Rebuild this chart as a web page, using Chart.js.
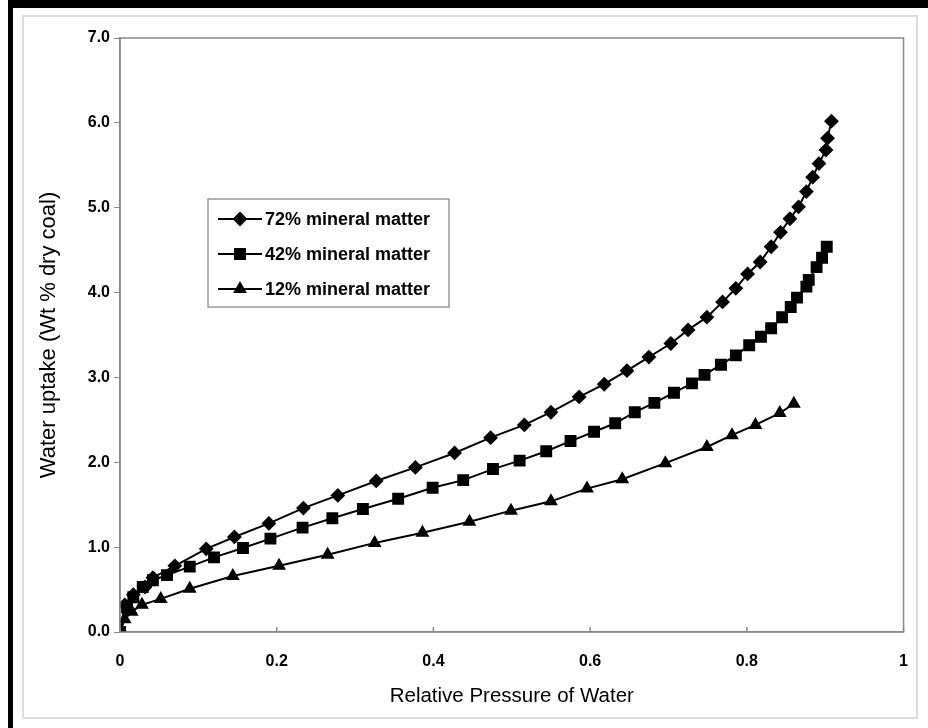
<!DOCTYPE html>
<html>
<head>
<meta charset="utf-8">
<script src="https://cdn.jsdelivr.net/npm/chart.js@4/dist/chart.umd.min.js"></script>
<style>
  html, body { margin: 0; padding: 0; background: #fff; }
  #wrap { position: relative; width: 928px; height: 728px; overflow: hidden; }
  .bar { position: absolute; background: #000; }
  #frame { position: absolute; left: 22px; top: 15px; width: 892px; height: 700px; border: 2px solid #dcdcdc; }
  canvas { position: absolute; left: 0; top: 0; }
</style>
</head>
<body>
<div id="wrap">
  <div class="bar" style="left:8px;top:0;width:920px;height:8px"></div>
  <div class="bar" style="left:8px;top:0;width:5px;height:728px"></div>
  <div id="frame"></div>
  <canvas id="isotherm" width="928" height="728"></canvas>
</div>
<script>
// series
var seriesNames = ["72% mineral matter", "42% mineral matter", "12% mineral matter"];

var pressure72 = [0, 0.006, 0.017, 0.032, 0.042, 0.070, 0.110, 0.146, 0.190, 0.234, 0.278, 0.327, 0.377, 0.427, 0.473, 0.516, 0.550, 0.586, 0.618, 0.647, 0.675, 0.703, 0.725, 0.749, 0.769, 0.786, 0.801, 0.817, 0.831, 0.843, 0.855, 0.866, 0.876, 0.884, 0.892, 0.901, 0.903, 0.908];
var uptake72   = [0, 0.32, 0.44, 0.53, 0.64, 0.78, 0.98, 1.12, 1.28, 1.46, 1.61, 1.78, 1.94, 2.11, 2.29, 2.44, 2.59, 2.77, 2.92, 3.08, 3.24, 3.40, 3.56, 3.71, 3.89, 4.05, 4.22, 4.36, 4.54, 4.71, 4.87, 5.01, 5.19, 5.36, 5.52, 5.68, 5.82, 6.02];

var pressure42 = [0, 0.009, 0.017, 0.029, 0.042, 0.060, 0.089, 0.120, 0.157, 0.192, 0.233, 0.271, 0.310, 0.355, 0.399, 0.438, 0.476, 0.510, 0.544, 0.575, 0.605, 0.632, 0.657, 0.682, 0.707, 0.730, 0.746, 0.767, 0.786, 0.803, 0.818, 0.831, 0.845, 0.856, 0.864, 0.876, 0.879, 0.889, 0.896, 0.902];
var uptake42   = [0, 0.29, 0.41, 0.53, 0.61, 0.67, 0.77, 0.88, 0.99, 1.10, 1.23, 1.34, 1.45, 1.57, 1.70, 1.79, 1.92, 2.02, 2.13, 2.25, 2.36, 2.46, 2.59, 2.70, 2.82, 2.93, 3.03, 3.15, 3.26, 3.38, 3.48, 3.58, 3.71, 3.83, 3.94, 4.07, 4.15, 4.30, 4.41, 4.54];

var pressure12 = [0, 0.006, 0.015, 0.028, 0.052, 0.089, 0.144, 0.203, 0.265, 0.325, 0.386, 0.446, 0.499, 0.550, 0.596, 0.641, 0.696, 0.749, 0.781, 0.811, 0.842, 0.860];
var uptake12   = [0, 0.15, 0.24, 0.32, 0.39, 0.51, 0.66, 0.78, 0.91, 1.05, 1.17, 1.30, 1.43, 1.54, 1.69, 1.80, 1.99, 2.18, 2.32, 2.44, 2.58, 2.69];

var xTicks = [0, 0.2, 0.4, 0.6, 0.8, 1];

function pairs(xs, ys) {
    return xs.map(function (x, i) { return {x: x, y: ys[i]}; });
}

function makeSet(label, xs, ys, shape, r) {
    return {
        label: label,
        data: pairs(xs, ys),
        borderColor: '#000',
        backgroundColor: '#000',
        borderWidth: 2,
        pointStyle: shape,
        pointRadius: r,
        pointHoverRadius: r,
        tension: 0
    };
}

var tickFont = {family: "'Liberation Sans Narrow', 'Liberation Sans', Arial", size: 16, weight: 'bold'};

// box legend inside the plot + closing frame of the plot area
var boxLegend = {
    id: 'boxLegend',
    afterDraw: function (chart) {
        var ctx = chart.ctx, a = chart.chartArea;
        ctx.save();
        ctx.strokeStyle = '#8a8a8a';
        ctx.lineWidth = 1.5;
        ctx.strokeRect(a.left, a.top, a.right - a.left, a.bottom - a.top);
        // inward ticks on x axis
        var xs = chart.scales.x;
        xTicks.forEach(function (t) {
            var px = xs.getPixelForValue(t);
            ctx.beginPath();
            ctx.moveTo(px, a.bottom);
            ctx.lineTo(px, a.bottom - 5);
            ctx.stroke();
        });
        // legend box
        ctx.strokeStyle = '#999';
        ctx.lineWidth = 1.5;
        ctx.strokeRect(208, 199, 241, 108);
        ctx.font = "bold 18px 'Liberation Sans', Arial";
        ctx.textBaseline = 'middle';
        ctx.fillStyle = '#000';
        chart.data.datasets.forEach(function (ds, i) {
            var y = 219 + i * 35;
            ctx.strokeStyle = '#000';
            ctx.lineWidth = 2;
            ctx.beginPath();
            ctx.moveTo(218, y);
            ctx.lineTo(262, y);
            ctx.stroke();
            Chart.helpers.drawPoint(ctx, {pointStyle: ds.pointStyle, radius: ds.pointRadius, borderWidth: 1}, 240, y);
            ctx.fill();
            ctx.fillText(ds.label, 265, y + 1);
        });
        ctx.restore();
    }
};

new Chart(document.getElementById('isotherm'), {
    type: 'line',
    data: {
        datasets: [
            makeSet(seriesNames[0], pressure72, uptake72, 'rectRot', 6),
            makeSet(seriesNames[1], pressure42, uptake42, 'rect', 7),
            makeSet(seriesNames[2], pressure12, uptake12, 'triangle', 6)
        ]
    },
    options: {
        responsive: false,
        animation: false,
        layout: {padding: {left: 24, right: 23, top: 38, bottom: 14}},
        plugins: {legend: {display: false}, tooltip: {enabled: false}},
        scales: {
            x: {
                type: 'linear',
                min: 0, max: 1,
                afterBuildTicks: function (s) { s.ticks = xTicks.map(function (v) { return {value: v}; }); },
                afterFit: function (s) { s.height = 82; },
                grid: {display: false, drawTicks: false},
                border: {color: '#8a8a8a', width: 1.5},
                ticks: {color: '#000', font: tickFont, padding: 20, maxRotation: 0,
                        callback: function (v) { return String(v); }},
                title: {display: true, text: 'Relative Pressure of Water', color: '#000',
                        font: {family: "'Liberation Sans', Arial", size: 20.5},
                        padding: {top: 0, bottom: 5}}
            },
            y: {
                min: 0, max: 7,
                afterFit: function (s) { s.width = 96; },
                grid: {drawOnChartArea: false, drawTicks: true, tickLength: 6, color: '#8a8a8a'},
                border: {color: '#8a8a8a', width: 1.5},
                ticks: {stepSize: 1, color: '#000', font: tickFont, padding: 4,
                        callback: function (v) { return v.toFixed(1); }},
                title: {display: true, text: 'Water uptake (Wt % dry coal)', color: '#000',
                        font: {family: "'Liberation Sans', Arial", size: 22},
                        padding: {top: 12, bottom: 0}}
            }
        }
    },
    plugins: [boxLegend]
});
</script>
</body>
</html>
